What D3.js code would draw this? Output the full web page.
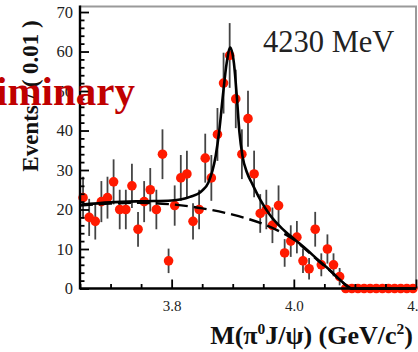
<!DOCTYPE html>
<html>
<head>
<meta charset="utf-8">
<script src="https://cdn.jsdelivr.net/npm/d3@7"></script>
<style>
  html, body { margin: 0; padding: 0; background: #fff; }
  svg { display: block; }
  text { font-family: "Liberation Serif", "Times New Roman", serif; }
</style>
</head>
<body>
<svg id="chart" width="418" height="352"></svg>
<script>
// Bin centres of M(pi0 J/psi), 0.01 GeV/c^2 wide
const binCenters = d3.range(55).map(i => +(3.655 + i * 0.01).toFixed(3));
// Events per bin
const events = [23, 18, 17, 22, 23, 27, 20, 20, 26, 15,
                22, 25, 20, 34, 7, 21, 28, 29, 17, 20,
                33, 28, 39, 52, 59, 48, 34, 43, 29, 19,
                20, 16, 21, 9, 12, 13, 7, 5, 15, 6,
                10, 6, 3, 0, 0, 0, 0, 0, 0, 0,
                0, 0, 0, 0, 0];
// Statistical uncertainty per bin
const errors = [5.3, 4.7, 4.6, 5.2, 5.3, 5.7, 5.0, 5.0, 5.6, 4.4,
                5.2, 5.5, 5.0, 6.3, 3.1, 5.1, 5.8, 5.9, 4.6, 5.0,
                6.2, 5.8, 6.7, 7.7, 8.2, 7.4, 6.3, 7.1, 5.9, 4.9,
                5.0, 4.5, 5.1, 3.5, 4.0, 4.1, 3.1, 2.7, 4.4, 2.9,
                3.7, 2.9, 2.2, 0, 0, 0, 0, 0, 0, 0,
                0, 0, 0, 0, 0];

// Total fit curve
const totalX = [3.65, 3.70, 3.75, 3.80, 3.83, 3.85, 3.86, 3.872, 3.878, 3.884,
                3.890, 3.896, 3.902, 3.907, 3.911, 3.916, 3.923, 3.932, 3.945, 3.96,
                3.98, 4.00, 4.02, 4.04, 4.06, 4.08, 4.095, 4.20];
const totalY = [21.2, 21.8, 22.1, 22.3, 23.2, 24.8, 26.8, 33.5, 40.0, 49.0,
                57.0, 61.0, 57.0, 48.0, 39.5, 33.5, 29.5, 26.5, 22.5, 18.8,
                15.3, 12.6, 10.0, 7.2, 4.5, 1.6, 0, 0];
// Background fit curve
const bkgX = [3.65, 3.70, 3.75, 3.80, 3.85, 3.90, 3.95, 3.98, 4.00, 4.02,
              4.04, 4.06, 4.08, 4.095, 4.20];
const bkgY = [21.0, 21.5, 21.7, 21.3, 20.3, 18.7, 16.3, 14.2, 12.4, 9.8,
              7.0, 4.4, 1.5, 0, 0];

const xMajor = [3.8, 4.0, 4.2];
const xMinor = [3.65, 3.70, 3.75, 3.85, 3.90, 3.95, 4.05, 4.10, 4.15];
const yMajor = [0, 10, 20, 30, 40, 50, 60, 70];
const yMinor = d3.range(0, 72, 2).filter(v => v % 10 !== 0);

const svg = d3.select("#chart");
const padL = 80, padR = 416, padT = 6.5, padB = 288.5;

const x = d3.scaleLinear().domain([3.65, 4.2]).range([padL, padR]);
const y = d3.scaleLinear().domain([0, 71.4]).range([padB, padT]);

// Frame (top and right sides)
svg.append("path")
  .attr("d", `M${padL},${padT}H${padR}V${padB}`)
  .attr("fill", "none").attr("stroke", "#9a9a9a").attr("stroke-width", 2);

const plot = svg.append("g");

// Error bars
plot.append("g").selectAll("line")
  .data(binCenters.map((c, i) => ({c, v: events[i], e: errors[i]})).filter(d => d.e > 0))
  .join("line")
  .attr("x1", d => x(d.c)).attr("x2", d => x(d.c))
  .attr("y1", d => y(d.v - d.e)).attr("y2", d => y(d.v + d.e))
  .attr("stroke", "#444").attr("stroke-width", 1.8);

// Data points
plot.append("g").selectAll("circle")
  .data(binCenters.map((c, i) => ({c, v: events[i]})))
  .join("circle")
  .attr("cx", d => x(d.c)).attr("cy", d => y(d.v))
  .attr("r", 4.8).attr("fill", "#ff1a00");

// Fit curves
const line = d3.line().x(d => x(d[0])).y(d => y(d[1])).curve(d3.curveMonotoneX);
plot.append("path")
  .datum(bkgX.map((v, i) => [v, bkgY[i]]))
  .attr("d", line).attr("fill", "none")
  .attr("stroke", "#000").attr("stroke-width", 2.4).attr("stroke-dasharray", "13,6");
plot.append("path")
  .datum(totalX.map((v, i) => [v, totalY[i]]))
  .attr("d", line).attr("fill", "none")
  .attr("stroke", "#000").attr("stroke-width", 2.6);

// Axes with inward ticks
const styleAxis = g => {
  g.select(".domain").remove();
  g.selectAll(".tick line").attr("stroke", "#000").attr("stroke-width", 1.8);
  g.selectAll(".tick text").attr("fill", "#222")
    .style("font-family", '"Liberation Serif", "Times New Roman", serif');
};

svg.append("g").attr("transform", `translate(0,${padB})`)
  .call(d3.axisBottom(x).tickValues(xMinor).tickSize(-4.5).tickFormat(""))
  .call(styleAxis);
svg.append("g").attr("transform", `translate(0,${padB})`)
  .call(d3.axisBottom(x).tickValues(xMajor).tickSize(-9).tickPadding(12).tickFormat(d3.format(".1f")))
  .call(styleAxis)
  .call(g => g.selectAll(".tick text").attr("font-size", 15));

svg.append("g").attr("transform", `translate(${padL},0)`)
  .call(d3.axisLeft(y).tickValues(yMinor).tickSize(-4.5).tickFormat(""))
  .call(styleAxis);
svg.append("g").attr("transform", `translate(${padL},0)`)
  .call(d3.axisLeft(y).tickValues(yMajor).tickSize(-9).tickPadding(7))
  .call(styleAxis)
  .call(g => g.selectAll(".tick text").attr("font-size", 16.5));

// Axis lines
svg.append("line").attr("x1", padL).attr("x2", padR).attr("y1", padB).attr("y2", padB)
  .attr("stroke", "#000").attr("stroke-width", 2.4);
svg.append("line").attr("x1", padL).attr("x2", padL).attr("y1", padT - 1).attr("y2", padB + 1)
  .attr("stroke", "#000").attr("stroke-width", 2.4);

// Axis titles
svg.append("text")
  .attr("transform", "translate(38,96) rotate(-90)")
  .attr("text-anchor", "middle")
  .attr("font-size", 23).attr("font-weight", "bold").attr("fill", "#111")
  .text("Events / ( 0.01 )");

const xt = svg.append("text")
  .attr("x", 413).attr("y", 344)
  .attr("text-anchor", "end")
  .attr("font-size", 26).attr("font-weight", "bold").attr("fill", "#111");
xt.append("tspan").text("M(π");
xt.append("tspan").attr("font-size", 15.5).attr("dy", -10).text("0");
xt.append("tspan").attr("dy", 10).text("J/ψ) (GeV/c");
xt.append("tspan").attr("font-size", 15.5).attr("dy", -10).text("2");
xt.append("tspan").attr("dy", 10).text(")");

// Energy label
svg.append("text")
  .attr("x", 263).attr("y", 52)
  .attr("font-size", 30.5).attr("fill", "#222")
  .text("4230 MeV");

// Preliminary stamp
svg.append("text")
  .attr("x", 135).attr("y", 105)
  .attr("text-anchor", "end")
  .attr("font-size", 41).attr("font-weight", "bold").attr("fill", "#c00000")
  .text("Preliminary");
</script>
</body>
</html>
